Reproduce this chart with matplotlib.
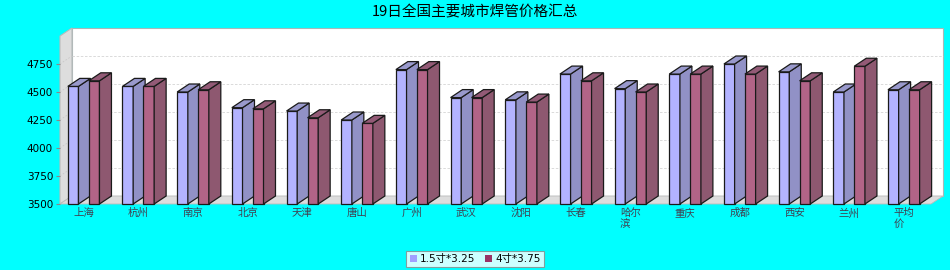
import matplotlib
matplotlib.use("Agg")
import matplotlib.pyplot as plt
from matplotlib.patches import Polygon, Rectangle, Patch

plt.rcParams['font.family'] = ['DejaVu Sans', 'Noto Sans CJK SC']

# 데이터
cities = ["上海", "杭州", "南京", "北京", "天津", "唐山", "广州", "武汉",
          "沈阳", "长春", "哈尔滨", "重庆", "成都", "西安", "兰州", "平均价"]
tick_labels = ["上海", "杭州", "南京", "北京", "天津", "唐山", "广州", "武汉",
               "沈阳", "长春", "哈尔\n滨", "重庆", "成都", "西安", "兰州", "平均\n价"]
price_a = [4550, 4550, 4500, 4360, 4330, 4250, 4700, 4450,
           4430, 4660, 4530, 4660, 4750, 4680, 4500, 4520]
price_b = [4600, 4550, 4520, 4350, 4270, 4220, 4700, 4450,
           4410, 4600, 4500, 4660, 4660, 4600, 4730, 4520]
series_names = ["1.5寸*3.25", "4寸*3.75"]
yticks = [3500, 3750, 4000, 4250, 4500, 4750]

ymin, ymax = 3500, 5000
xmin, xmax = -0.43, 15.5
dx, dy = 0.219, 71.4      # 3D 깊이
w = 0.195

fig = plt.figure(figsize=(9.5, 2.7), dpi=100)
fig.patch.set_facecolor("#00FFFF")
ax = fig.add_axes([60/950, 66/270, 871/950, 168/270])
ax.set_facecolor("none")
ax.set_xlim(xmin, xmax)
ax.set_ylim(ymin, ymax)
for s in ax.spines.values():
    s.set_visible(False)

# 벽, 바닥
ax.add_patch(Rectangle((xmin + dx, ymin + dy), xmax - xmin, ymax - ymin,
                       facecolor="white", edgecolor="#A8B8B8", lw=0.8,
                       clip_on=False, zorder=0))
ax.add_patch(Polygon([(xmin, ymin), (xmin + dx, ymin + dy), (xmin + dx, ymax + dy), (xmin, ymax)],
                     facecolor="#DDDDDD", edgecolor="#BBBBBB", lw=0.8, clip_on=False, zorder=1))
ax.add_patch(Polygon([(xmin, ymin), (xmax, ymin), (xmax + dx, ymin + dy), (xmin + dx, ymin + dy)],
                     facecolor="#DDDDDD", edgecolor="#BBBBBB", lw=0.6, clip_on=False, zorder=1))
for v in yticks[1:]:
    ax.plot([xmin + dx, xmax + dx], [v + dy, v + dy], ls=(0, (3, 2)), color="#D4D4D4",
            lw=0.6, clip_on=False, zorder=1)
    ax.plot([xmin, xmin + dx], [v, v + dy], ls=(0, (2, 2)), color="#C8C8C8",
            lw=0.6, clip_on=False, zorder=1)


def bar3d(x0, v, front, side, top, z):
    ax.add_patch(Rectangle((x0, ymin), w, v - ymin, facecolor=front,
                           edgecolor="#1A1A1A", lw=0.9, zorder=z, clip_on=False))
    ax.add_patch(Polygon([(x0 + w, ymin), (x0 + w + dx, ymin + dy), (x0 + w + dx, v + dy), (x0 + w, v)],
                         facecolor=side, edgecolor="#1A1A1A", lw=0.9, zorder=z, clip_on=False))
    ax.add_patch(Polygon([(x0, v), (x0 + w, v), (x0 + w + dx, v + dy), (x0 + dx, v + dy)],
                         facecolor=top, edgecolor="#1A1A1A", lw=0.9, zorder=z, clip_on=False))


for i in range(len(cities)):
    bar3d(i - 0.287, price_a[i], "#B3B3FF", "#9191C6", "#9999CC", 3 + i * 2)
    bar3d(i + 0.097, price_b[i], "#B26487", "#8E5870", "#935A76", 4 + i * 2)

ax.set_yticks(yticks)
ax.set_yticklabels([str(v) for v in yticks], fontsize=7.5)
ax.tick_params(axis="y", length=3, color="#888888", pad=2)
ax.set_xticks(range(len(cities)))
ax.set_xticklabels(tick_labels, fontsize=7.5, color="#404050",
                   family=['Noto Sans CJK SC', 'DejaVu Sans'], linespacing=1.1,
                   multialignment="left", va="top")
ax.tick_params(axis="x", length=0, pad=3)

fig.text(0.5, 1 - 12/270, "19日全国主要城市焊管价格汇总", ha="center", va="center",
         fontsize=10.5, family=['Noto Sans CJK SC', 'DejaVu Sans'])

handles = [Patch(facecolor="#A0A0FF", edgecolor="none"),
           Patch(facecolor="#993366", edgecolor="none")]
leg = fig.legend(handles, series_names, loc="center", bbox_to_anchor=(0.5, 1 - 259/270),
                 ncol=2, fontsize=7.5, frameon=True, fancybox=False, handlelength=0.7,
                 handleheight=0.7, handletextpad=0.3, columnspacing=0.9,
                 borderpad=0.3, borderaxespad=0)
leg.get_frame().set_edgecolor("#888888")
leg.get_frame().set_linewidth(0.8)

fig.savefig("out.png", dpi=100, facecolor=fig.get_facecolor())
